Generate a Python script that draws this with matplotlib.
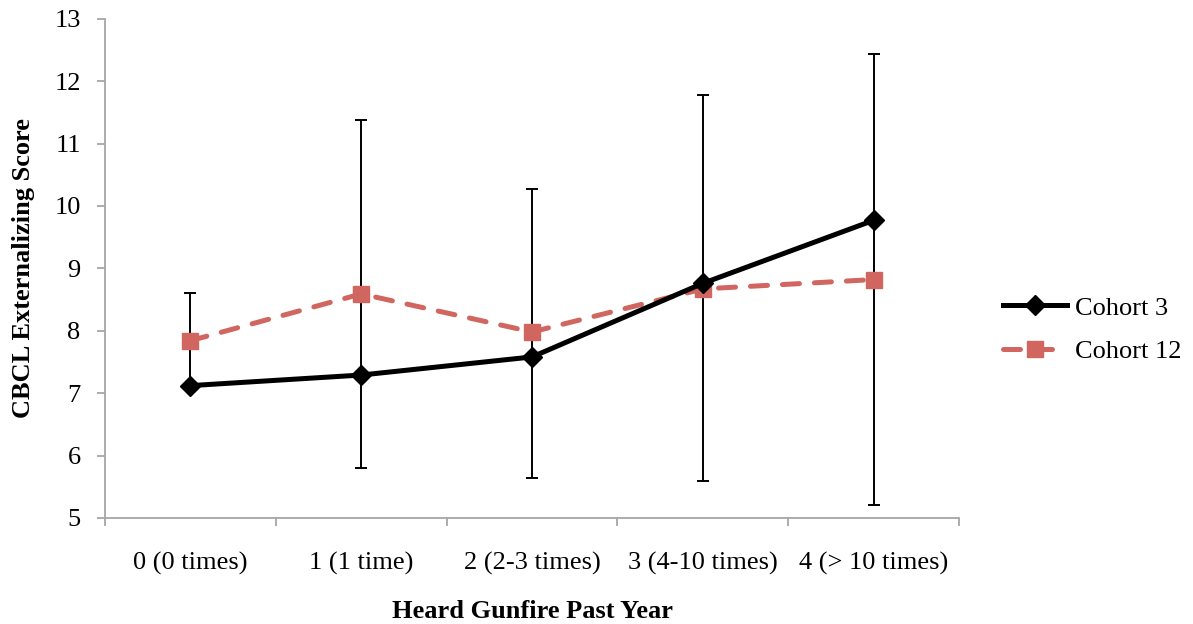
import matplotlib
matplotlib.use("Agg")
import matplotlib.pyplot as plt
import numpy as np

# Categories and series
categories = ["0 (0 times)", "1 (1 time)", "2 (2-3 times)", "3 (4-10 times)", "4 (> 10 times)"]
cohort3 = [7.12, 7.29, 7.58, 8.76, 9.77]
cohort12 = [7.84, 8.59, 7.98, 8.67, 8.82]
# Error bar bounds (drawn on the Cohort 3 series)
err_upper = [8.61, 11.37, 10.27, 11.77, 12.44]
err_lower = [7.12, 5.80, 5.64, 5.59, 5.20]
y_ticks = [5, 6, 7, 8, 9, 10, 11, 12, 13]

plt.rcParams["font.family"] = ["Liberation Serif", "DejaVu Serif"]
FS = 19

fig = plt.figure(figsize=(11.93, 6.24), dpi=100)
ax = fig.add_axes([0.088, 0.170, 0.716, 0.800])

x = np.arange(len(categories))
c3 = np.array(cohort3)
yerr = np.vstack([c3 - np.array(err_lower), np.array(err_upper) - c3])

ax.errorbar(x, c3, yerr=yerr, fmt="none", ecolor="black", elinewidth=1.4,
            capsize=4.6, capthick=1.4, zorder=2)

red = "#D0665F"
ax.plot(x, cohort12, color=red, lw=3.6, linestyle=(0, (3.4, 3.0)),
        dash_capstyle="round", marker="s", markersize=12,
        markerfacecolor=red, markeredgecolor=red, label="Cohort 12", zorder=3)
ax.plot(x, cohort3, color="black", lw=3.6, marker="D", markersize=10,
        label="Cohort 3", zorder=4)

ax.set_xlim(-0.5, len(categories) - 0.5)
ax.set_ylim(5, 13)
ax.set_yticks(y_ticks)
ax.set_yticklabels([str(t) for t in y_ticks], fontsize=FS)

# category labels centred, tick marks at boundaries
ax.set_xticks(x)
ax.set_xticklabels(categories, fontsize=FS)
ax.tick_params(axis="x", which="major", length=0, pad=24.6)
ax.set_xticks(np.arange(-0.5, len(categories)), minor=True)
ax.tick_params(axis="x", which="minor", length=5.5, width=1.3, color="#a6a6a6")
ax.tick_params(axis="y", length=5.5, width=1.3, color="#a6a6a6", pad=12)

for side in ["top", "right"]:
    ax.spines[side].set_visible(False)
for side in ["left", "bottom"]:
    ax.spines[side].set_color("#a6a6a6")
    ax.spines[side].set_linewidth(1.3)

ax.set_xlabel("Heard Gunfire Past Year", fontsize=FS, fontweight="bold", labelpad=17.6)
ax.set_ylabel("CBCL Externalizing Score", fontsize=FS, fontweight="bold", labelpad=14)

handles, labels = ax.get_legend_handles_labels()
order = [1, 0]
leg = ax.legend([handles[i] for i in order], [labels[i] for i in order],
                loc="center left", bbox_to_anchor=(1.023, 0.377), frameon=False,
                fontsize=FS, handlelength=2.45, labelspacing=0.77, handletextpad=0.3)

fig.savefig("out.png", dpi=100)
